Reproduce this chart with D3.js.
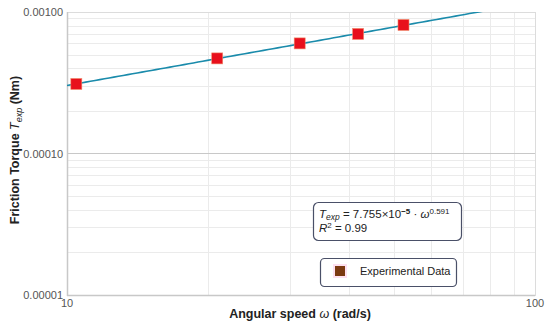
<!DOCTYPE html>
<html>
<head>
<meta charset="utf-8">
<script src="https://cdn.jsdelivr.net/npm/d3@7"></script>
<style>
  body { margin: 0; background: #fff; }
  svg { display: block; font-family: "Liberation Sans", Arial, sans-serif; }
</style>
</head>
<body>
<svg width="550" height="326"></svg>
<script>
// measured points
var omega = [10.47, 20.94, 31.42, 41.89, 52.36];
var torque = [3.1e-4, 4.7e-4, 6.0e-4, 7.0e-4, 8.1e-4];
// power-law fit
var fitA = 7.755e-5, fitB = 0.591;
var yTicks = [1e-5, 1e-4, 1e-3];
var yTickLabels = ["0.00001", "0.00010", "0.00100"];
var xTicks = [10, 100];

var svg = d3.select("svg");
var plotL = 67, plotR = 535, plotT = 12, plotB = 295;

var x = d3.scaleLog().domain([10, 100]).range([plotL, plotR]);
var y = d3.scaleLog().domain([1e-5, 1e-3]).range([plotB, plotT]);

var grid = svg.append("g").attr("class", "grid");

// minor gridlines
var xMinor = d3.range(2, 10).map(function (k) { return k * 10; });
var yMinor = [];
[1e-5, 1e-4].forEach(function (d) {
    d3.range(2, 10).forEach(function (k) { yMinor.push(k * d); });
});

grid.selectAll("line.xm").data(xMinor).enter().append("line")
    .attr("x1", function (d) { return Math.round(x(d)) + 0.5; })
    .attr("x2", function (d) { return Math.round(x(d)) + 0.5; })
    .attr("y1", plotT).attr("y2", plotB)
    .attr("stroke", "#ebebeb").attr("stroke-width", 1);

grid.selectAll("line.ym").data(yMinor).enter().append("line")
    .attr("x1", plotL).attr("x2", plotR)
    .attr("y1", function (d) { return Math.round(y(d)) + 0.5; })
    .attr("y2", function (d) { return Math.round(y(d)) + 0.5; })
    .attr("stroke", "#ebebeb").attr("stroke-width", 1);

// major line at 1e-4
grid.append("line")
    .attr("x1", plotL).attr("x2", plotR)
    .attr("y1", Math.round(y(1e-4)) + 0.5).attr("y2", Math.round(y(1e-4)) + 0.5)
    .attr("stroke", "#c8c8c8").attr("stroke-width", 1.2);

// frame
svg.append("rect")
    .attr("x", plotL + 0.5).attr("y", plotT + 0.5)
    .attr("width", plotR - plotL).attr("height", plotB - plotT)
    .attr("fill", "none").attr("stroke", "#dcdcdc");
svg.append("line").attr("x1", plotL + 0.5).attr("x2", plotL + 0.5)
    .attr("y1", plotT).attr("y2", plotB + 1).attr("stroke", "#c8c8c8").attr("stroke-width", 1.5);
svg.append("line").attr("x1", plotL).attr("x2", plotR)
    .attr("y1", plotB + 0.5).attr("y2", plotB + 0.5).attr("stroke", "#c8c8c8").attr("stroke-width", 1.5);

// tick labels
svg.selectAll("text.yt").data(yTicks).enter().append("text")
    .attr("x", plotL - 4).attr("y", function (d) { return y(d) + 4; })
    .attr("text-anchor", "end").attr("font-size", 11).attr("fill", "#555")
    .text(function (d, i) { return yTickLabels[i]; });

svg.selectAll("text.xt").data(xTicks).enter().append("text")
    .attr("x", function (d) { return x(d); }).attr("y", plotB + 12)
    .attr("text-anchor", "middle").attr("font-size", 11).attr("fill", "#555")
    .text(function (d) { return d; });

// fit line, clipped to plot area
svg.append("clipPath").attr("id", "clip").append("rect")
    .attr("x", plotL).attr("y", plotT).attr("width", plotR - plotL).attr("height", plotB - plotT);

var fitPts = d3.range(0, 101).map(function (i) {
    var w = Math.pow(10, 1 + i / 100);
    return [w, fitA * Math.pow(w, fitB)];
});
svg.append("path")
    .datum(fitPts)
    .attr("clip-path", "url(#clip)")
    .attr("fill", "none").attr("stroke", "#1a8bab").attr("stroke-width", 1.6)
    .attr("d", d3.line().x(function (d) { return x(d[0]); }).y(function (d) { return y(d[1]); }));

// data markers
var ms = 11;
svg.selectAll("rect.pt").data(omega).enter().append("rect")
    .attr("x", function (d) { return x(d) - ms / 2; })
    .attr("y", function (d, i) { return y(torque[i]) - ms / 2; })
    .attr("width", ms).attr("height", ms)
    .attr("fill", "#e8101c").attr("stroke", "#f08a6a").attr("stroke-width", 0.6);

// axis titles
svg.append("text")
    .attr("x", 300).attr("y", 318).attr("text-anchor", "middle")
    .attr("font-size", 12.5).attr("font-weight", "bold").attr("fill", "#222")
    .html('Angular speed <tspan font-style="italic" font-weight="normal">ω</tspan> (rad/s)');

var yt = svg.append("text")
    .attr("transform", "translate(19,150) rotate(-90)")
    .attr("text-anchor", "middle")
    .attr("font-size", 12.5).attr("font-weight", "bold").attr("fill", "#222");
yt.append("tspan").text("Friction Torque ");
yt.append("tspan").attr("font-style", "italic").attr("font-weight", "normal").text("T");
yt.append("tspan").attr("font-style", "italic").attr("font-weight", "normal")
    .attr("font-size", 9).attr("dy", 3).text("exp");
yt.append("tspan").attr("dy", -3).text(" (Nm)");

// equation box
svg.append("rect")
    .attr("x", 313.5).attr("y", 202.5).attr("width", 148).attr("height", 38)
    .attr("rx", 5).attr("fill", "#fff").attr("stroke", "#4a5068").attr("stroke-width", 1.2);

var eq = svg.append("text").attr("x", 319).attr("y", 218)
    .attr("font-size", 11.5).attr("fill", "#222");
eq.append("tspan").attr("font-style", "italic").text("T");
eq.append("tspan").attr("font-style", "italic").attr("font-size", 8.5).attr("dy", 2).text("exp");
eq.append("tspan").attr("dy", -2).text(" = 7.755×10");
eq.append("tspan").attr("font-size", 8).attr("font-weight", "bold").attr("dy", -4).text("−5");
eq.append("tspan").attr("dy", 4).text(" · ");
eq.append("tspan").attr("font-style", "italic").text("ω");
eq.append("tspan").attr("font-size", 8).attr("dy", -4).text("0.591");

var r2 = svg.append("text").attr("x", 319).attr("y", 232)
    .attr("font-size", 11.5).attr("fill", "#222");
r2.append("tspan").attr("font-style", "italic").text("R");
r2.append("tspan").attr("font-size", 8).attr("dy", -4).text("2");
r2.append("tspan").attr("dy", 4).text(" = 0.99");

// legend box
svg.append("rect")
    .attr("x", 320.5).attr("y", 258.5).attr("width", 136).attr("height", 28)
    .attr("rx", 4).attr("fill", "#fff").attr("stroke", "#4a5068").attr("stroke-width", 1.2);
svg.append("rect")
    .attr("x", 333).attr("y", 264).attr("width", 14).attr("height", 14)
    .attr("fill", "#fde0f0");
svg.append("rect")
    .attr("x", 335).attr("y", 266).attr("width", 10).attr("height", 10)
    .attr("fill", "#7b3a10");
svg.append("text")
    .attr("x", 360).attr("y", 275).attr("font-size", 11).attr("fill", "#222")
    .text("Experimental Data");
</script>
</body>
</html>
